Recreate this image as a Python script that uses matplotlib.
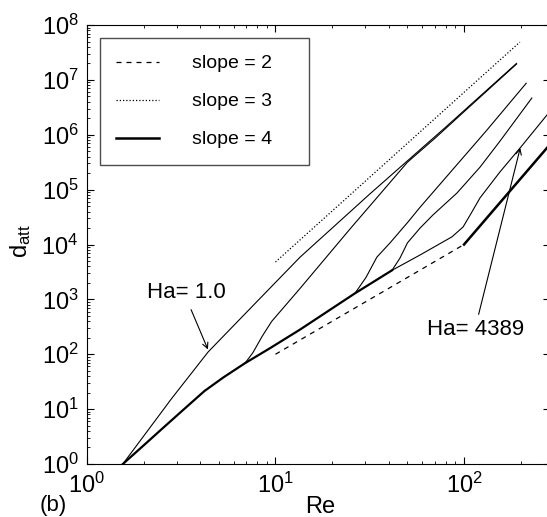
import matplotlib
matplotlib.use('Agg')
import matplotlib.pyplot as plt

plt.rcParams['font.family'] = ['Liberation Sans', 'DejaVu Sans']
plt.rcParams['mathtext.fontset'] = 'custom'
plt.rcParams['mathtext.rm'] = 'Liberation Sans'
plt.rcParams['mathtext.it'] = 'Liberation Sans:italic'

# Common lower branch (all Ha values follow it before splitting off)
base_re = [1.55, 2.0, 2.5, 3.2, 4.2, 5.3, 6.9, 9.35, 13.5, 26.4, 41.5]
base_d = [1, 2.19, 4.37, 9.33, 21.4, 38, 69, 129, 282, 1290, 3390]

# Ha = 1.0
ha1_re = [1.55, 2.82, 4.39, 7.94, 13.5, 31.6, 79.4, 190]
ha1_d = [1, 15.8, 110, 900, 5890, 8.3e4, 1.35e6, 2.0e7]

# intermediate Ha curves, starting from where they leave the lower branch
hb_re = [6.9, 7.59, 8.51, 9.55, 13.5, 25.1, 50.1, 70.8, 100, 190]
hb_d = [69, 107, 214, 398, 1585, 2.0e4, 3.16e5, 8.9e5, 2.63e6, 1.95e7]

hc_re = [26.4, 30.2, 34.5, 40.5, 50.1, 58.5, 131.8, 213.8]
hc_d = [1290, 2510, 5890, 1.07e4, 2.5e4, 4.79e4, 1.2e6, 8.7e6]

hd_re = [41.5, 45.7, 50.1, 58.5, 68.5, 91.8, 121.6, 154.9, 229]
hd_d = [3390, 5620, 1.07e4, 2.0e4, 3.47e4, 8.7e4, 2.57e5, 7.59e5, 4.68e6]

# Ha = 4389
ha4389_re = [41.5, 58.5, 86.3, 98.9, 109.6, 121.6, 154.9, 199.5, 275.4, 302]
ha4389_d = [3390, 6460, 1.38e4, 2.09e4, 3.8e4, 7.08e4, 2.09e5, 5.89e5, 2.29e6, 3.3e6]

# reference slopes
s2_re = [10, 100]
s2_d = [100, 1e4]
s3_re = [10, 198]
s3_d = [4.8e3, 4.9e7]
s4_re = [100, 300]
s4_d = [1e4, 8.1e5]

fig = plt.figure(figsize=(5.47, 5.17), dpi=100)
ax = fig.add_axes([0.159, 0.1025, 0.8465, 0.849])

ax.plot(s2_re, s2_d, 'k', ls=(0, (4, 4)), lw=0.9, label='slope = 2')
ax.plot(s3_re, s3_d, 'k', ls=(0, (1, 1.6)), lw=0.9, label='slope = 3')
ax.plot(s4_re, s4_d, 'k-', lw=1.8, label='slope = 4')

ax.plot(base_re, base_d, 'k-', lw=1.6)
for re, d in [(ha1_re, ha1_d), (hb_re, hb_d), (hc_re, hc_d),
              (hd_re, hd_d), (ha4389_re, ha4389_d)]:
    ax.plot(re, d, 'k-', lw=0.8)

ax.set_xscale('log')
ax.set_yscale('log')
ax.set_xlim(1, 286)
ax.set_ylim(1, 1e8)

ax.tick_params(which='both', direction='in', top=True, right=True,
               labelsize=17, pad=6)
ax.tick_params(which='major', length=5)
ax.tick_params(which='minor', length=2.5)
ax.set_xticks([1, 10, 100])
ax.set_yticks([10.0 ** k for k in range(9)])

ax.set_xlabel('Re', fontsize=17, va='center')
ax.xaxis.set_label_coords(0.503, -0.098)
ax.set_ylabel(r'$\mathrm{d_{att}}$', fontsize=17, va='center')
ax.yaxis.set_label_coords(-0.1425, 0.508)

# annotations
ax.text(3.35, 1350, 'Ha= 1.0', fontsize=16, ha='center', va='center')
ax.annotate('', xy=(4.44, 110), xytext=(3.52, 724),
            arrowprops=dict(arrowstyle='->', lw=0.8, color='k'))
ax.text(115.8, 288, 'Ha= 4389', fontsize=16, ha='center', va='center')
ax.annotate('', xy=(200.5, 6.46e5), xytext=(118.6, 477),
            arrowprops=dict(arrowstyle='->', lw=0.8, color='k'))

fig.text(53 / 547, 1 - 505 / 517, '(b)', fontsize=16, ha='center', va='center')

leg = ax.legend(loc='upper left', bbox_to_anchor=(0.028, 0.677, 0.451, 0.293),
                mode='expand', fontsize=14, handlelength=2.2, handletextpad=1.7,
                labelspacing=1.05, borderpad=0.85, borderaxespad=0,
                fancybox=False, edgecolor='0.3', framealpha=1)
leg.get_frame().set_linewidth(1.0)

fig.savefig('out.png', dpi=100)
